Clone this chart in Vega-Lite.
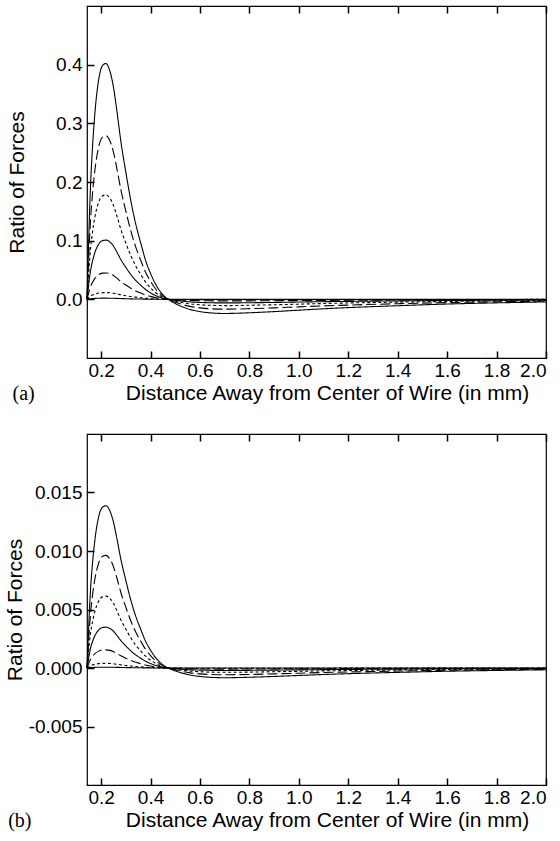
{
  "$schema": "https://vega.github.io/schema/vega-lite/v6.json",
  "padding": {"left": 3, "top": 4, "right": 0, "bottom": 2},
  "background": "white",
  "spacing": 27,
  "config": {
    "view": {"stroke": "black", "strokeWidth": 1.2},
    "axis": {
      "domain": false, "grid": false, "ticks": true, "tickColor": "black", "tickSize": 7, "tickWidth": 1.5, "offset": -7,
      "labelColor": "black", "titleColor": "black",
      "labelFont": "Liberation Sans", "titleFont": "Liberation Sans",
      "labelFontSize": 19, "titleFontSize": 21, "titleFontWeight": "normal"
    },
    "line": {"interpolate": "monotone", "color": "black"}
  },
  "datasets": {
    "a": [
      {"x": 0.143, "s1": 0, "s2": 0, "s3": 0, "s4": 0, "s5": 0, "s6": 0, "s7": 0},
      {"x": 0.148, "s1": 0.0724, "s2": 0.0502, "s3": 0.0320, "s4": 0.0182, "s5": 0.0081, "s6": 0.0021, "s7": 0.0004},
      {"x": 0.153, "s1": 0.1447, "s2": 0.1004, "s3": 0.0641, "s4": 0.0364, "s5": 0.0162, "s6": 0.0041, "s7": 0.0007},
      {"x": 0.158, "s1": 0.2010, "s2": 0.1395, "s3": 0.0890, "s4": 0.0505, "s5": 0.0225, "s6": 0.0058, "s7": 0.0010},
      {"x": 0.165, "s1": 0.2573, "s2": 0.1786, "s3": 0.1139, "s4": 0.0646, "s5": 0.0288, "s6": 0.0074, "s7": 0.0013},
      {"x": 0.175, "s1": 0.3176, "s2": 0.2204, "s3": 0.1406, "s4": 0.0798, "s5": 0.0356, "s6": 0.0091, "s7": 0.0016},
      {"x": 0.19, "s1": 0.3739, "s2": 0.2595, "s3": 0.1655, "s4": 0.0939, "s5": 0.0419, "s6": 0.0107, "s7": 0.0019},
      {"x": 0.205, "s1": 0.3980, "s2": 0.2762, "s3": 0.1762, "s4": 0.1000, "s5": 0.0446, "s6": 0.0114, "s7": 0.0020},
      {"x": 0.22, "s1": 0.4020, "s2": 0.2790, "s3": 0.1780, "s4": 0.1010, "s5": 0.0450, "s6": 0.0115, "s7": 0.0020},
      {"x": 0.235, "s1": 0.3899, "s2": 0.2706, "s3": 0.1727, "s4": 0.0980, "s5": 0.0437, "s6": 0.0112, "s7": 0.0019},
      {"x": 0.25, "s1": 0.3618, "s2": 0.2511, "s3": 0.1602, "s4": 0.0909, "s5": 0.0405, "s6": 0.0104, "s7": 0.0018},
      {"x": 0.265, "s1": 0.3176, "s2": 0.2204, "s3": 0.1406, "s4": 0.0798, "s5": 0.0356, "s6": 0.0091, "s7": 0.0016},
      {"x": 0.28, "s1": 0.2693, "s2": 0.1869, "s3": 0.1193, "s4": 0.0677, "s5": 0.0302, "s6": 0.0077, "s7": 0.0013},
      {"x": 0.30, "s1": 0.2171, "s2": 0.1507, "s3": 0.0961, "s4": 0.0545, "s5": 0.0243, "s6": 0.0062, "s7": 0.0011},
      {"x": 0.32, "s1": 0.1688, "s2": 0.1172, "s3": 0.0748, "s4": 0.0424, "s5": 0.0189, "s6": 0.0048, "s7": 0.0008},
      {"x": 0.34, "s1": 0.1286, "s2": 0.0893, "s3": 0.0570, "s4": 0.0323, "s5": 0.0144, "s6": 0.0037, "s7": 0.0006},
      {"x": 0.36, "s1": 0.0965, "s2": 0.0670, "s3": 0.0427, "s4": 0.0242, "s5": 0.0108, "s6": 0.0028, "s7": 0.0005},
      {"x": 0.38, "s1": 0.0663, "s2": 0.0460, "s3": 0.0294, "s4": 0.0167, "s5": 0.0074, "s6": 0.0019, "s7": 0.0003},
      {"x": 0.40, "s1": 0.0442, "s2": 0.0307, "s3": 0.0196, "s4": 0.0111, "s5": 0.0050, "s6": 0.0013, "s7": 0.0002},
      {"x": 0.42, "s1": 0.0261, "s2": 0.0181, "s3": 0.0116, "s4": 0.0066, "s5": 0.0029, "s6": 0.0007, "s7": 0.0001},
      {"x": 0.44, "s1": 0.0129, "s2": 0.0089, "s3": 0.0057, "s4": 0.0032, "s5": 0.0014, "s6": 0.0004, "s7": 0.0001},
      {"x": 0.46, "s1": 0.0036, "s2": 0.0025, "s3": 0.0016, "s4": 0.0009, "s5": 0.0004, "s6": 0.0001, "s7": 0},
      {"x": 0.48, "s1": -0.0024, "s2": -0.0017, "s3": -0.0011, "s4": -0.0006, "s5": -0.0003, "s6": -0.0001, "s7": 0},
      {"x": 0.50, "s1": -0.0072, "s2": -0.0050, "s3": -0.0032, "s4": -0.0018, "s5": -0.0008, "s6": -0.0002, "s7": 0},
      {"x": 0.53, "s1": -0.0129, "s2": -0.0089, "s3": -0.0057, "s4": -0.0032, "s5": -0.0014, "s6": -0.0004, "s7": -0.0001},
      {"x": 0.56, "s1": -0.0173, "s2": -0.0120, "s3": -0.0077, "s4": -0.0043, "s5": -0.0019, "s6": -0.0005, "s7": -0.0001},
      {"x": 0.60, "s1": -0.0209, "s2": -0.0145, "s3": -0.0093, "s4": -0.0053, "s5": -0.0023, "s6": -0.0006, "s7": -0.0001},
      {"x": 0.65, "s1": -0.0233, "s2": -0.0162, "s3": -0.0103, "s4": -0.0059, "s5": -0.0026, "s6": -0.0007, "s7": -0.0001},
      {"x": 0.70, "s1": -0.0241, "s2": -0.0167, "s3": -0.0107, "s4": -0.0061, "s5": -0.0027, "s6": -0.0007, "s7": -0.0001},
      {"x": 0.75, "s1": -0.0237, "s2": -0.0165, "s3": -0.0105, "s4": -0.0060, "s5": -0.0027, "s6": -0.0007, "s7": -0.0001},
      {"x": 0.80, "s1": -0.0229, "s2": -0.0159, "s3": -0.0101, "s4": -0.0058, "s5": -0.0026, "s6": -0.0007, "s7": -0.0001},
      {"x": 0.90, "s1": -0.0209, "s2": -0.0145, "s3": -0.0093, "s4": -0.0053, "s5": -0.0023, "s6": -0.0006, "s7": -0.0001},
      {"x": 1.00, "s1": -0.0185, "s2": -0.0128, "s3": -0.0082, "s4": -0.0046, "s5": -0.0021, "s6": -0.0005, "s7": -0.0001},
      {"x": 1.10, "s1": -0.0161, "s2": -0.0112, "s3": -0.0071, "s4": -0.0040, "s5": -0.0018, "s6": -0.0005, "s7": -0.0001},
      {"x": 1.20, "s1": -0.0141, "s2": -0.0098, "s3": -0.0062, "s4": -0.0035, "s5": -0.0016, "s6": -0.0004, "s7": -0.0001},
      {"x": 1.40, "s1": -0.0109, "s2": -0.0075, "s3": -0.0048, "s4": -0.0027, "s5": -0.0012, "s6": -0.0003, "s7": -0.0001},
      {"x": 1.60, "s1": -0.0080, "s2": -0.0056, "s3": -0.0036, "s4": -0.0020, "s5": -0.0009, "s6": -0.0002, "s7": 0},
      {"x": 1.80, "s1": -0.0060, "s2": -0.0042, "s3": -0.0027, "s4": -0.0015, "s5": -0.0007, "s6": -0.0002, "s7": 0},
      {"x": 2.00, "s1": -0.0044, "s2": -0.0031, "s3": -0.0020, "s4": -0.0011, "s5": -0.0005, "s6": -0.0001, "s7": 0}
    ],
    "b": [
      {"x": 0.143, "s1": 0, "s2": 0, "s3": 0, "s4": 0, "s5": 0, "s6": 0, "s7": 0},
      {"x": 0.148, "s1": 0.002497, "s2": 0.001733, "s3": 0.001105, "s4": 0.000628, "s5": 0.000279, "s6": 0.000072, "s7": 0.000013},
      {"x": 0.153, "s1": 0.004993, "s2": 0.003467, "s3": 0.002210, "s4": 0.001256, "s5": 0.000558, "s6": 0.000144, "s7": 0.000025},
      {"x": 0.158, "s1": 0.006935, "s2": 0.004815, "s3": 0.003070, "s4": 0.001745, "s5": 0.000775, "s6": 0.000200, "s7": 0.000035},
      {"x": 0.165, "s1": 0.008877, "s2": 0.006163, "s3": 0.003930, "s4": 0.002234, "s5": 0.000992, "s6": 0.000256, "s7": 0.000045},
      {"x": 0.175, "s1": 0.010957, "s2": 0.007608, "s3": 0.004851, "s4": 0.002757, "s5": 0.001225, "s6": 0.000316, "s7": 0.000055},
      {"x": 0.19, "s1": 0.012899, "s2": 0.008956, "s3": 0.005710, "s4": 0.003246, "s5": 0.001442, "s6": 0.000372, "s7": 0.000065},
      {"x": 0.205, "s1": 0.013731, "s2": 0.009534, "s3": 0.006079, "s4": 0.003455, "s5": 0.001535, "s6": 0.000396, "s7": 0.000069},
      {"x": 0.22, "s1": 0.013870, "s2": 0.009630, "s3": 0.006140, "s4": 0.003490, "s5": 0.001550, "s6": 0.000400, "s7": 0.000070},
      {"x": 0.235, "s1": 0.013454, "s2": 0.009341, "s3": 0.005956, "s4": 0.003385, "s5": 0.001504, "s6": 0.000388, "s7": 0.000068},
      {"x": 0.25, "s1": 0.012483, "s2": 0.008667, "s3": 0.005526, "s4": 0.003141, "s5": 0.001395, "s6": 0.000360, "s7": 0.000063},
      {"x": 0.265, "s1": 0.010957, "s2": 0.007608, "s3": 0.004851, "s4": 0.002757, "s5": 0.001225, "s6": 0.000316, "s7": 0.000055},
      {"x": 0.28, "s1": 0.009293, "s2": 0.006452, "s3": 0.004114, "s4": 0.002338, "s5": 0.001039, "s6": 0.000268, "s7": 0.000047},
      {"x": 0.30, "s1": 0.007490, "s2": 0.005200, "s3": 0.003316, "s4": 0.001885, "s5": 0.000837, "s6": 0.000216, "s7": 0.000038},
      {"x": 0.32, "s1": 0.005825, "s2": 0.004045, "s3": 0.002579, "s4": 0.001466, "s5": 0.000651, "s6": 0.000168, "s7": 0.000029},
      {"x": 0.34, "s1": 0.004438, "s2": 0.003082, "s3": 0.001965, "s4": 0.001117, "s5": 0.000496, "s6": 0.000128, "s7": 0.000022},
      {"x": 0.36, "s1": 0.003329, "s2": 0.002311, "s3": 0.001474, "s4": 0.000838, "s5": 0.000372, "s6": 0.000096, "s7": 0.000017},
      {"x": 0.38, "s1": 0.002289, "s2": 0.001589, "s3": 0.001013, "s4": 0.000576, "s5": 0.000256, "s6": 0.000066, "s7": 0.000012},
      {"x": 0.40, "s1": 0.001526, "s2": 0.001059, "s3": 0.000675, "s4": 0.000384, "s5": 0.000171, "s6": 0.000044, "s7": 0.000008},
      {"x": 0.42, "s1": 0.000902, "s2": 0.000626, "s3": 0.000399, "s4": 0.000227, "s5": 0.000101, "s6": 0.000026, "s7": 0.000005},
      {"x": 0.44, "s1": 0.000444, "s2": 0.000308, "s3": 0.000196, "s4": 0.000112, "s5": 0.000050, "s6": 0.000013, "s7": 0.000002},
      {"x": 0.46, "s1": 0.000125, "s2": 0.000087, "s3": 0.000055, "s4": 0.000031, "s5": 0.000014, "s6": 0.000004, "s7": 0.000001},
      {"x": 0.48, "s1": -0.000083, "s2": -0.000058, "s3": -0.000037, "s4": -0.000021, "s5": -0.000009, "s6": -0.000002, "s7": 0},
      {"x": 0.50, "s1": -0.000250, "s2": -0.000173, "s3": -0.000111, "s4": -0.000063, "s5": -0.000028, "s6": -0.000007, "s7": -0.000001},
      {"x": 0.53, "s1": -0.000444, "s2": -0.000308, "s3": -0.000196, "s4": -0.000112, "s5": -0.000050, "s6": -0.000013, "s7": -0.000002},
      {"x": 0.56, "s1": -0.000596, "s2": -0.000414, "s3": -0.000264, "s4": -0.000150, "s5": -0.000067, "s6": -0.000017, "s7": -0.000003},
      {"x": 0.60, "s1": -0.000721, "s2": -0.000501, "s3": -0.000319, "s4": -0.000181, "s5": -0.000081, "s6": -0.000021, "s7": -0.000004},
      {"x": 0.65, "s1": -0.000804, "s2": -0.000559, "s3": -0.000356, "s4": -0.000202, "s5": -0.000090, "s6": -0.000023, "s7": -0.000004},
      {"x": 0.70, "s1": -0.000832, "s2": -0.000578, "s3": -0.000368, "s4": -0.000209, "s5": -0.000093, "s6": -0.000024, "s7": -0.000004},
      {"x": 0.75, "s1": -0.000818, "s2": -0.000568, "s3": -0.000362, "s4": -0.000206, "s5": -0.000091, "s6": -0.000024, "s7": -0.000004},
      {"x": 0.80, "s1": -0.000791, "s2": -0.000549, "s3": -0.000350, "s4": -0.000199, "s5": -0.000088, "s6": -0.000023, "s7": -0.000004},
      {"x": 0.90, "s1": -0.000721, "s2": -0.000501, "s3": -0.000319, "s4": -0.000181, "s5": -0.000081, "s6": -0.000021, "s7": -0.000004},
      {"x": 1.00, "s1": -0.000638, "s2": -0.000443, "s3": -0.000282, "s4": -0.000161, "s5": -0.000071, "s6": -0.000018, "s7": -0.000003},
      {"x": 1.10, "s1": -0.000555, "s2": -0.000385, "s3": -0.000246, "s4": -0.000140, "s5": -0.000062, "s6": -0.000016, "s7": -0.000003},
      {"x": 1.20, "s1": -0.000485, "s2": -0.000337, "s3": -0.000215, "s4": -0.000122, "s5": -0.000054, "s6": -0.000014, "s7": -0.000002},
      {"x": 1.40, "s1": -0.000374, "s2": -0.000260, "s3": -0.000166, "s4": -0.000094, "s5": -0.000042, "s6": -0.000011, "s7": -0.000002},
      {"x": 1.60, "s1": -0.000277, "s2": -0.000193, "s3": -0.000123, "s4": -0.000070, "s5": -0.000031, "s6": -0.000008, "s7": -0.000001},
      {"x": 1.80, "s1": -0.000208, "s2": -0.000144, "s3": -0.000092, "s4": -0.000052, "s5": -0.000023, "s6": -0.000006, "s7": -0.000001},
      {"x": 2.00, "s1": -0.000153, "s2": -0.000106, "s3": -0.000068, "s4": -0.000038, "s5": -0.000017, "s6": -0.000004, "s7": -0.000001}
    ]
  },
  "vconcat": [
    {
      "width": 459,
      "height": 352,
      "data": {"name": "a"},
      "transform": [{"fold": ["s1", "s2", "s3", "s4", "s5", "s6", "s7"], "as": ["series", "value"]}],
      "title": {"text": "(a)", "orient": "bottom", "anchor": "start", "frame": "bounds", "font": "Liberation Serif", "fontSize": 20, "fontWeight": "normal", "color": "black", "offset": -19, "dx": 6},
      "layer": [
        {
          "transform": [{"filter": {"field": "series", "oneOf": ["s1", "s2", "s3"]}}],
          "mark": "line",
          "encoding": {
            "x": {"field": "x", "type": "quantitative", "scale": {"domain": [0.143, 2.0], "nice": false, "zero": false},
                  "axis": {"orient": "bottom", "values": [0.2, 0.4, 0.6, 0.8, 1.0, 1.2, 1.4, 1.6, 1.8, 2.0], "format": ".1f", "labelPadding": 3, "title": "Distance Away from Center of Wire (in mm)", "titlePadding": 2, "titleX": 240}},
            "y": {"field": "value", "type": "quantitative", "scale": {"domain": [-0.1, 0.5], "nice": false, "zero": false},
                  "axis": {"values": [0, 0.1, 0.2, 0.3, 0.4], "format": ".1f", "labelPadding": 5, "title": "Ratio of Forces", "titlePadding": 28}},
            "strokeDash": {"field": "series", "type": "nominal", "legend": null,
                           "scale": {"domain": ["s1", "s2", "s3", "s4", "s5", "s6", "s7"], "range": [[1, 0], [10, 4], [3, 2.5], [1, 0], [10, 4], [3, 2.5], [1, 0]]}},
            "strokeWidth": {"field": "series", "type": "ordinal", "legend": null,
                            "scale": {"domain": ["s1", "s2", "s3", "s4", "s5", "s6", "s7"], "range": [1.1, 1.1, 1.1, 2.8, 1.1, 1.1, 1.1]}}
          }
        },
        {
          "transform": [{"filter": {"field": "series", "oneOf": ["s4", "s5", "s6", "s7"]}}],
          "mark": "line",
          "encoding": {
            "x": {"field": "x", "type": "quantitative", "scale": {"domain": [0.143, 2.0], "nice": false, "zero": false},
                  "axis": {"orient": "top", "values": [0.2, 0.4, 0.6, 0.8, 1.0, 1.2, 1.4, 1.6, 1.8, 2.0], "labels": false, "title": null}},
            "y": {"field": "value", "type": "quantitative", "scale": {"domain": [-0.1, 0.5], "nice": false, "zero": false},
                  "axis": {"values": [0, 0.1, 0.2, 0.3, 0.4], "format": ".1f", "labelPadding": 5, "title": "Ratio of Forces", "titlePadding": 28}},
            "strokeDash": {"field": "series", "type": "nominal", "legend": null,
                           "scale": {"domain": ["s1", "s2", "s3", "s4", "s5", "s6", "s7"], "range": [[1, 0], [10, 4], [3, 2.5], [1, 0], [10, 4], [3, 2.5], [1, 0]]}},
            "strokeWidth": {"field": "series", "type": "ordinal", "legend": null,
                            "scale": {"domain": ["s1", "s2", "s3", "s4", "s5", "s6", "s7"], "range": [1.1, 1.1, 1.1, 2.8, 1.1, 1.1, 1.1]}}
          }
        }
      ],
      "resolve": {"axis": {"x": "independent"}}
    },
    {
      "width": 459,
      "height": 351,
      "data": {"name": "b"},
      "transform": [{"fold": ["s1", "s2", "s3", "s4", "s5", "s6", "s7"], "as": ["series", "value"]}],
      "title": {"text": "(b)", "orient": "bottom", "anchor": "start", "frame": "bounds", "font": "Liberation Serif", "fontSize": 20, "fontWeight": "normal", "color": "black", "offset": -19, "dx": 4},
      "layer": [
        {
          "transform": [{"filter": {"field": "series", "oneOf": ["s1", "s2", "s3"]}}],
          "mark": "line",
          "encoding": {
            "x": {"field": "x", "type": "quantitative", "scale": {"domain": [0.143, 2.0], "nice": false, "zero": false},
                  "axis": {"orient": "bottom", "values": [0.2, 0.4, 0.6, 0.8, 1.0, 1.2, 1.4, 1.6, 1.8, 2.0], "format": ".1f", "labelPadding": 3, "title": "Distance Away from Center of Wire (in mm)", "titlePadding": 2, "titleX": 240}},
            "y": {"field": "value", "type": "quantitative", "scale": {"domain": [-0.01, 0.02], "nice": false, "zero": false},
                  "axis": {"values": [-0.005, 0, 0.005, 0.01, 0.015], "format": ".3f", "labelExpr": "replace(datum.label, '−', '-')", "labelPadding": 5, "title": "Ratio of Forces", "titlePadding": 3}},
            "strokeDash": {"field": "series", "type": "nominal", "legend": null,
                           "scale": {"domain": ["s1", "s2", "s3", "s4", "s5", "s6", "s7"], "range": [[1, 0], [10, 4], [3, 2.5], [1, 0], [10, 4], [3, 2.5], [1, 0]]}},
            "strokeWidth": {"field": "series", "type": "ordinal", "legend": null,
                            "scale": {"domain": ["s1", "s2", "s3", "s4", "s5", "s6", "s7"], "range": [1.1, 1.1, 1.1, 2.8, 1.1, 1.1, 1.1]}}
          }
        },
        {
          "transform": [{"filter": {"field": "series", "oneOf": ["s4", "s5", "s6", "s7"]}}],
          "mark": "line",
          "encoding": {
            "x": {"field": "x", "type": "quantitative", "scale": {"domain": [0.143, 2.0], "nice": false, "zero": false},
                  "axis": {"orient": "top", "values": [0.2, 0.4, 0.6, 0.8, 1.0, 1.2, 1.4, 1.6, 1.8, 2.0], "labels": false, "title": null}},
            "y": {"field": "value", "type": "quantitative", "scale": {"domain": [-0.01, 0.02], "nice": false, "zero": false},
                  "axis": {"values": [-0.005, 0, 0.005, 0.01, 0.015], "format": ".3f", "labelExpr": "replace(datum.label, '−', '-')", "labelPadding": 5, "title": "Ratio of Forces", "titlePadding": 3}},
            "strokeDash": {"field": "series", "type": "nominal", "legend": null,
                           "scale": {"domain": ["s1", "s2", "s3", "s4", "s5", "s6", "s7"], "range": [[1, 0], [10, 4], [3, 2.5], [1, 0], [10, 4], [3, 2.5], [1, 0]]}},
            "strokeWidth": {"field": "series", "type": "ordinal", "legend": null,
                            "scale": {"domain": ["s1", "s2", "s3", "s4", "s5", "s6", "s7"], "range": [1.1, 1.1, 1.1, 2.8, 1.1, 1.1, 1.1]}}
          }
        }
      ],
      "resolve": {"axis": {"x": "independent"}}
    }
  ]
}
